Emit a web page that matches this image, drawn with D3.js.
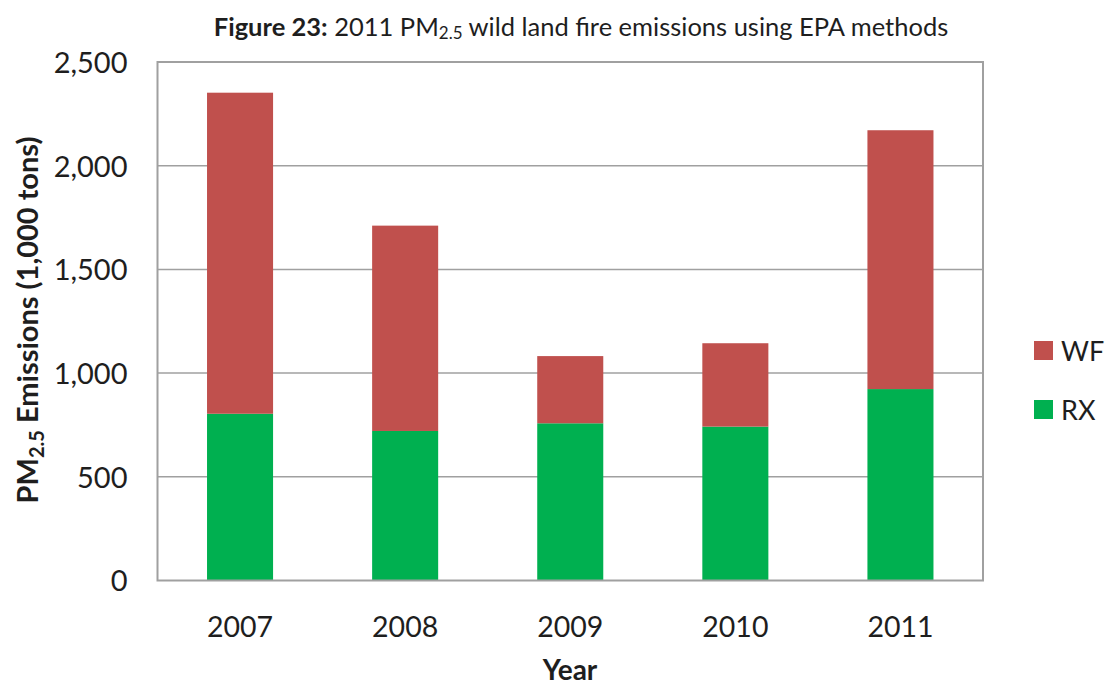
<!DOCTYPE html>
<html>
<head>
<meta charset="utf-8">
<script src="https://cdn.jsdelivr.net/npm/d3@7"></script>
<style>
  body { margin: 0; background: #fff; }
  svg text { font-family: Lato, "Open Sans", sans-serif; fill: #1e1e1e; }
</style>
</head>
<body>
<div id="chart"></div>
<script>
var years = ["2007", "2008", "2009", "2010", "2011"]
var rx = [804, 721, 758, 742, 923]
var wf = [1548, 990, 324, 402, 1248]
var seriesNames = ["RX", "WF"]
var yTicks = [0, 500, 1000, 1500, 2000, 2500]

var width = 1107
var height = 686
var margin = { left: 157.5, right: 1107 - 983, top: 62, bottom: 686 - 580.5 }

var svg = d3.select("#chart")
    .append("svg")
    .attr("width", width)
    .attr("height", height)

var rows = years.map((y, i) => ({ year: y, RX: rx[i], WF: wf[i] }))

var color = d3.scaleOrdinal()
    .domain(seriesNames)
    .range(["#00b050", "#c0504d"])

var x = d3.scaleBand()
    .domain(years)
    .range([margin.left, width - margin.right])
    .paddingInner(0.6)
    .paddingOuter(0.3)

var y = d3.scaleLinear()
    .domain([0, 2500])
    .range([height - margin.bottom, margin.top])

// gridlines
svg.append("g")
    .selectAll("line")
    .data(yTicks.slice(1, -1))
    .enter()
    .append("line")
    .attr("x1", margin.left)
    .attr("x2", width - margin.right)
    .attr("y1", d => y(d))
    .attr("y2", d => y(d))
    .attr("stroke", "#a0a0a0")
    .attr("stroke-width", 1.5)

// stacked bars
var stacked = d3.stack().keys(seriesNames)(rows)

svg.append("g")
    .selectAll("g")
    .data(stacked)
    .enter()
    .append("g")
    .attr("fill", d => color(d.key))
    .selectAll("rect")
    .data(d => d)
    .enter()
    .append("rect")
    .attr("x", d => x(d.data.year))
    .attr("width", x.bandwidth())
    .attr("y", d => y(d[1]))
    .attr("height", d => y(d[0]) - y(d[1]))

// plot border
svg.append("rect")
    .attr("x", margin.left)
    .attr("y", margin.top)
    .attr("width", width - margin.right - margin.left)
    .attr("height", height - margin.bottom - margin.top)
    .attr("fill", "none")
    .attr("stroke", "#a0a0a0")
    .attr("stroke-width", 2)

// y axis labels
var yAxis = svg.append("g")
    .attr("transform", "translate(" + (margin.left - 27) + ",0)")
    .call(d3.axisLeft(y).tickValues(yTicks).tickSize(0).tickFormat(d3.format(",")))
yAxis.select(".domain").remove()
yAxis.selectAll("text")
    .style("font-size", "29px")
    .attr("dy", "0.36em")

// x axis labels
var xAxis = svg.append("g")
    .attr("transform", "translate(0," + (height - margin.bottom + 33) + ")")
    .call(d3.axisBottom(x).tickSize(0))
xAxis.select(".domain").remove()
xAxis.selectAll("text")
    .style("font-size", "28.5px")
    .attr("dy", "0.71em")

// titles
var title = svg.append("text")
    .attr("x", 581)
    .attr("y", 36)
    .attr("text-anchor", "middle")
    .style("font-size", "25.5px")
title.append("tspan").style("font-weight", "bold").text("Figure 23:")
title.append("tspan").text(" 2011 PM")
title.append("tspan").style("font-size", "17px").attr("dy", 3).text("2.5")
title.append("tspan").attr("dy", -3).text(" wild land fire emissions using EPA methods")

svg.append("text")
    .attr("x", 570)
    .attr("y", 680)
    .attr("text-anchor", "middle")
    .style("font-size", "28px")
    .style("font-weight", "bold")
    .text("Year")

var yTitle = svg.append("text")
    .attr("transform", "translate(38,320) rotate(-90)")
    .attr("text-anchor", "middle")
    .style("font-size", "29px")
    .style("font-weight", "bold")
yTitle.append("tspan").text("PM")
yTitle.append("tspan").style("font-size", "20px").attr("dy", 6).text("2.5")
yTitle.append("tspan").attr("dy", -6).text(" Emissions (1,000 tons)")

// legend
var legend = svg.append("g")
    .selectAll("g")
    .data(seriesNames.slice().reverse())
    .enter()
    .append("g")
    .attr("transform", (d, i) => "translate(1034," + (341 + i * 59) + ")")

legend.append("rect")
    .attr("width", 19)
    .attr("height", 19)
    .attr("fill", d => color(d))

legend.append("text")
    .attr("x", 27)
    .attr("y", 10)
    .attr("dy", "0.36em")
    .style("font-size", "27px")
    .text(d => d)
</script>
</body>
</html>
